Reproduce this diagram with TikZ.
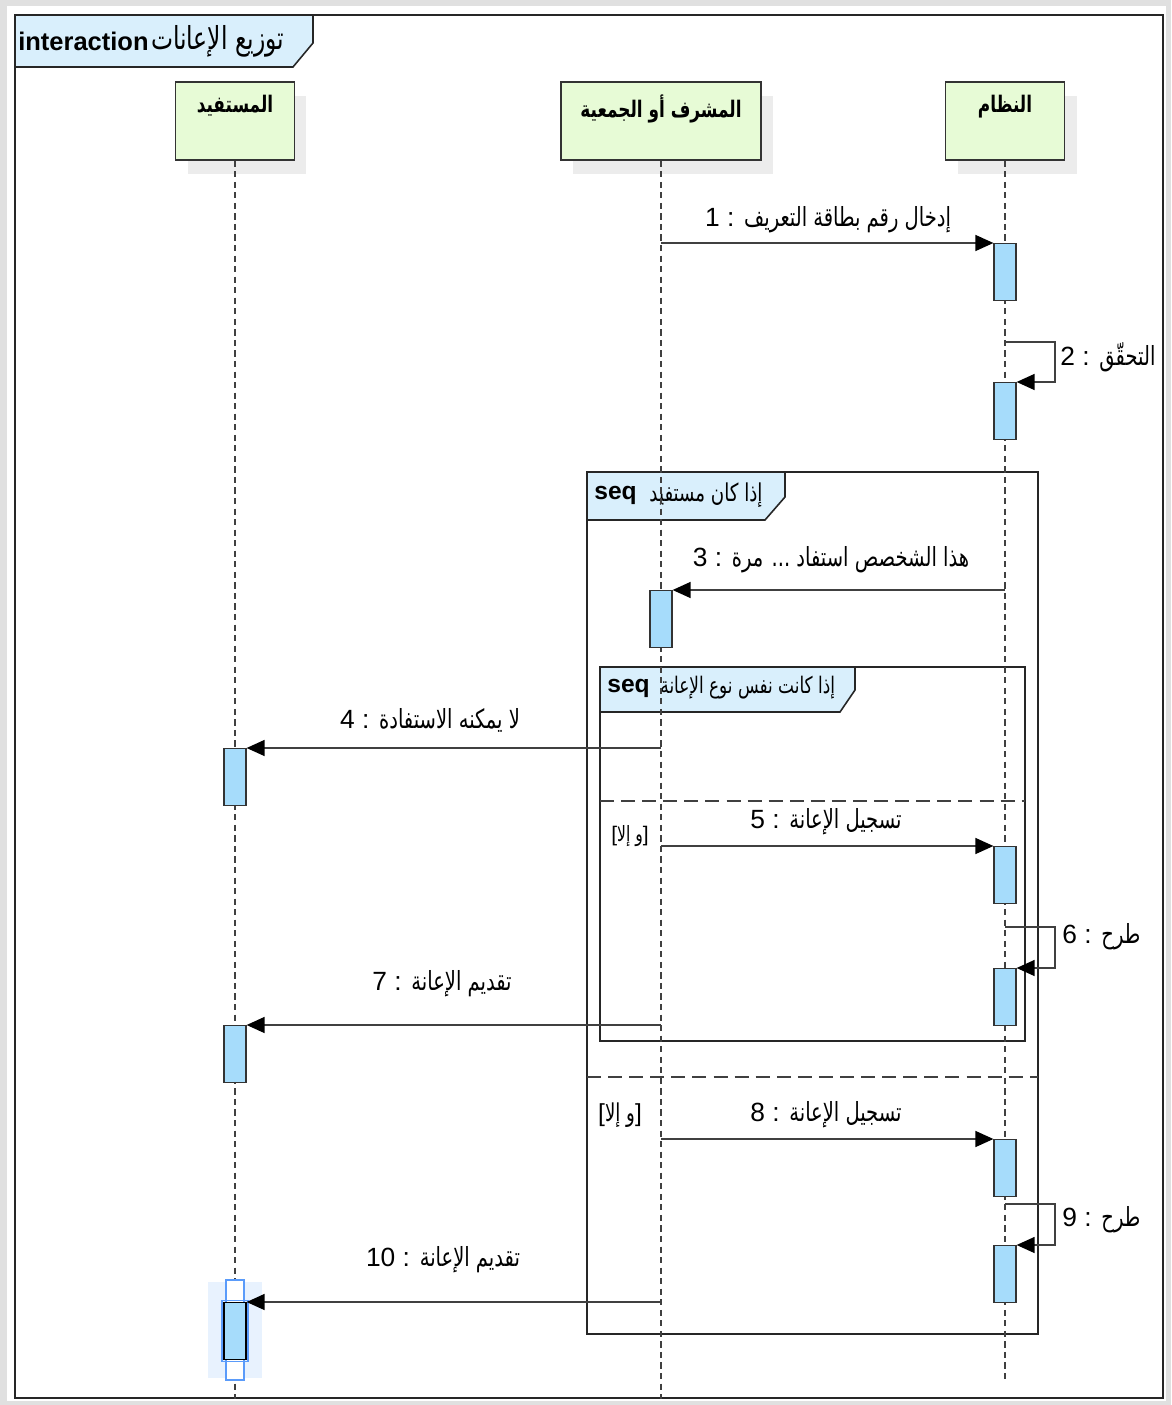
\documentclass[tikz,border=0pt]{standalone}
\usepackage{fontspec}
\setmainfont{Liberation Sans}
\newfontfamily\arabicfont[Script=Arabic,Scale=1.0,FakeStretch=0.74]{DejaVu Sans}
\TeXXeTstate=1
\usetikzlibrary{arrows.meta,shadows,positioning}

\definecolor{actblue}{RGB}{166,220,251}
\definecolor{headgreen}{RGB}{231,251,214}
\definecolor{tabblue}{RGB}{217,239,252}
\definecolor{shadowgray}{RGB}{236,236,236}
\definecolor{selblue}{RGB}{90,155,250}
\definecolor{selback}{RGB}{232,242,254}

\newcommand{\arb}[1]{{\arabicfont\beginR #1\endR}}

\tikzset{
  head/.style={draw=black!80, fill=headgreen, line width=0.8pt, minimum width=2.38cm,
    minimum height=1.56cm, inner sep=0pt,
    drop shadow={shadow xshift=0.24cm, shadow yshift=-0.28cm, fill=shadowgray, opacity=1}},
  headtxt/.style={font=\fontsize{13}{16}\selectfont\bfseries, inner sep=0pt},
  act/.style={draw=black!80, fill=actblue, line width=0.7pt, minimum width=0.44cm,
    minimum height=1.14cm, inner sep=0pt, anchor=north},
  lifeline/.style={black!75, line width=0.6pt, dash pattern=on 3.5pt off 2.5pt},
  msg/.style={black!75, line width=0.8pt, -{Triangle[length=0.36cm, width=0.32cm, color=black]}},
  lbl/.style={font=\fontsize{15}{18}\selectfont, inner sep=0pt},
  seqtxt/.style={font=\fontsize{14}{17}\selectfont\bfseries, inner sep=0pt, anchor=west},
  frame/.style={black!85, line width=0.9pt},
  tab/.style={frame, fill=tabblue},
  divider/.style={black!75, line width=1.2pt, dash pattern=on 8pt off 4pt},
}

\begin{document}
\begin{tikzpicture}[x=0.02cm, y=-0.02cm]
\useasboundingbox (0,0) rectangle (1171,1405);
\fill[black!12] (0,0) rectangle (1171,1405);
\fill[white] (7,6) rectangle (1166,1401);
\draw[frame] (15,15) rectangle (1163,1398);

% title
\draw[tab] (15,15) -- (313,15) -- (313,43) -- (293,67) -- (15,67) -- cycle;
\node[seqtxt, font=\fontsize{14.5}{17}\selectfont\bfseries] (ttl) at (18,41) {interaction};
\node[lbl, font=\fontsize{18}{20}\selectfont, right=1pt of ttl] (ttlar) {\arb{توزيع الإعانات}};

% lifeline heads
\node[head] (ben) at (235,121) {};
\node[head, minimum width=4cm] (sup) at (661,121) {};
\node[head] (sys) at (1005,121) {};
\node[headtxt, below=0.26cm of ben.north] (bentxt) {\arb{المستفيد}};
\node[headtxt, below=0.26cm of sup.north] (suptxt) {\arb{المشرف أو الجمعية}};
\node[headtxt, below=0.26cm of sys.north] (systxt) {\arb{النظام}};

% combined fragments
\draw[frame] (587,472) rectangle (1038,1334);
\draw[tab] (587,472) -- (785,472) -- (785,497) -- (765,520) -- (587,520) -- cycle;
\node[seqtxt] (seq1) at (594,495) {seq};
\node[lbl, font=\fontsize{14}{17}\selectfont, right=0.24cm of seq1] (cond1) {\arb{إذا كان مستفيد}};
\draw[divider] (587,1077) -- (1038,1077);
\node[lbl, font=\fontsize{14}{17}\selectfont] (else1) at (620,1115)
  {[{\arabicfont\beginR و إلا\endR}]};

\draw[frame] (600,667) rectangle (1025,1041);
\draw[tab] (600,667) -- (855,667) -- (855,690) -- (840,712) -- (600,712) -- cycle;
\node[seqtxt] (seq2) at (607,688) {seq};
\node[lbl, font=\fontsize{13}{16}\selectfont, right=0.2cm of seq2] (cond2) {\arb{إذا كانت نفس نوع الإعانة}};
\draw[divider] (600,801) -- (1025,801);
\node[lbl, font=\fontsize{12}{15}\selectfont] (else2) at (630,836)
  {[{\arabicfont\beginR و إلا\endR}]};

% lifelines
\draw[lifeline] (ben.south) -- ++(0,1238);
\draw[lifeline] (sup.south) -- ++(0,1238);
\draw[lifeline] (sys.south) -- ++(0,1218);

% selected bar
\fill[selback] (208,1282) rectangle (262,1378);
\draw[selblue, fill=white, line width=0.8pt] (226,1280) rectangle (244,1380);

% activations
\node[act] (a1) at (1005,243) {};
\node[act] (a2) at (1005,382) {};
\node[act] (a3) at (661,590) {};
\node[act] (a4) at (235,748) {};
\node[act] (a5) at (1005,846) {};
\node[act] (a6) at (1005,968) {};
\node[act] (a7) at (235,1025) {};
\node[act] (a8) at (1005,1139) {};
\node[act] (a9) at (1005,1245) {};
\node[act, draw=black] (a10) at (235,1302) {};
\draw[selblue, line width=0.8pt] ([shift={(-1.5,-1.5)}]a10.north west) rectangle ([shift={(1.5,1.5)}]a10.south east);

% messages
\draw[msg] (sup |- a1.north) -- (a1.north west);
\draw[msg] (sys |- a2.north) ++(0,-40) -- ++(50,0) |- (a2.north east);
\draw[msg] (sys |- a3.north) -- (a3.north east);
\draw[msg] (sup |- a4.north) -- (a4.north east);
\draw[msg] (sup |- a5.north) -- (a5.north west);
\draw[msg] (sys |- a6.north) ++(0,-41) -- ++(50,0) |- (a6.north east);
\draw[msg] (sup |- a7.north) -- (a7.north east);
\draw[msg] (sup |- a8.north) -- (a8.north west);
\draw[msg] (sys |- a9.north) ++(0,-41) -- ++(50,0) |- (a9.north east);
\draw[msg] (sup |- a10.north) -- (a10.north east);

% message labels
\node[lbl] (l1) at (828,220) {1 : \arb{إدخال رقم بطاقة التعريف}};
\node[lbl, anchor=west] (l2) at (1060,357) {2 : \arb{التحقّق}};
\node[lbl] (l3) at (831,560) {3 : \arb{هذا الشخصص استفاد ... مرة}};
\node[lbl] (l4) at (430,720) {4 : \arb{لا يمكنه الاستفادة}};
\node[lbl] (l5) at (826,822) {5 : \arb{تسجيل الإعانة}};
\node[lbl, anchor=west] (l6) at (1062,937) {6 : \arb{طرح}};
\node[lbl] (l7) at (442,984) {7 : \arb{تقديم الإعانة}};
\node[lbl] (l8) at (826,1115) {8 : \arb{تسجيل الإعانة}};
\node[lbl, anchor=west] (l9) at (1062,1220) {9 : \arb{طرح}};
\node[lbl] (l10) at (443,1260) {10 : \arb{تقديم الإعانة}};
\end{tikzpicture}
\end{document}
